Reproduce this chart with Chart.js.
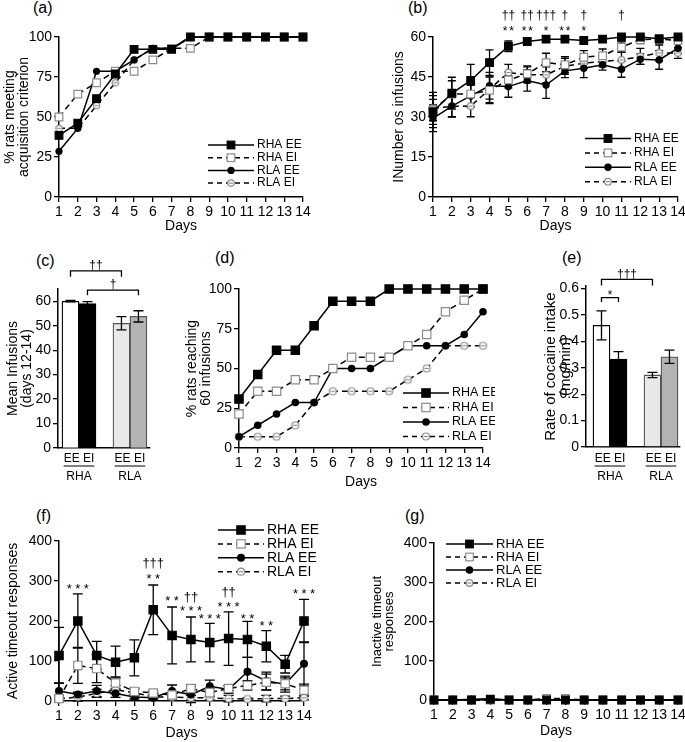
<!DOCTYPE html>
<html>
<head>
<meta charset="utf-8">
<script src="https://cdn.jsdelivr.net/npm/chart.js@4/dist/chart.umd.min.js"></script>
<style>
  body { margin: 0; background: #fff; }
  #fig { position: relative; width: 685px; height: 742px; overflow: hidden; font-family: 'Liberation Sans', Arial, sans-serif; }
  #fig canvas { position: absolute; }
  .lab { position: absolute; font-size: 16px; line-height: 16px; }
</style>
</head>
<body>
<div id="fig">
  <div class="lab" style="left:33px;top:0px">(a)</div>
  <div class="lab" style="left:408px;top:0px">(b)</div>
  <div class="lab" style="left:36px;top:253px">(c)</div>
  <div class="lab" style="left:215px;top:250px">(d)</div>
  <div class="lab" style="left:562px;top:250px">(e)</div>
  <div class="lab" style="left:36px;top:508px">(f)</div>
  <div class="lab" style="left:405px;top:508px">(g)</div>
</div>
<script>
'use strict'
/* 데이터 */
const days = [1, 2, 3, 4, 5, 6, 7, 8, 9, 10, 11, 12, 13, 14];
const groupNames = ['RHA EE', 'RHA EI', 'RLA EE', 'RLA EI'];
const barLabels = ['EE EI', 'EE EI'];
const barGroups = ['RHA', 'RLA'];
const barSlots = [1, 2, 4, 5]; // 막대 자리 (3번은 그룹 사이 빈칸)

// (a) % rats meeting acquisition criterion
const aRhaEE = [38.5, 46.2, 61.5, 76.9, 92.3, 92.3, 92.3, 100, 100, 100, 100, 100, 100, 100];
const aRhaEI = [50, 64.3, 71.4, 78.6, 78.6, 85.7, 92.9, 92.9, 100, 100, 100, 100, 100, 100];
const aRlaEE = [28.6, 42.9, 78.6, 78.6, 85.7, 92.9, 92.9, 100, 100, 100, 100, 100, 100, 100];
const aRlaEI = [42.9, 42.9, 57.1, 71.4, 85.7, 92.9, 92.9, 100, 100, 100, 100, 100, 100, 100];

// (b) number of infusions (mean, sem)
const bRhaEE = [32, 38.9, 43.7, 50.4, 56.5, 58.3, 59.2, 59.2, 58.7, 59.2, 60, 60, 59.3, 60];
const bRhaEEErr = [6, 6, 6, 4.8, 2, 1, 0.8, 0.8, 1, 0.8, 0.5, 0.5, 0.5, 0.5];
const bRhaEI = [32.6, 38.6, 38.6, 40, 43.9, 46.2, 50.4, 49.6, 52.4, 53, 56.2, 59, 59.2, 58.7];
const bRhaEIErr = [4, 5, 5, 5, 3, 3, 3.5, 3, 2.5, 2.5, 2, 1.5, 1.5, 1.5];
const bRlaEE = [29.5, 34.1, 37.9, 41.7, 41.4, 43.7, 42, 47.3, 48.3, 49.6, 47.9, 51.7, 51.4, 55.8];
const bRlaEEErr = [5, 4, 4, 5, 4, 4, 5, 2.5, 3.5, 2, 3, 2, 3.5, 2];
const bRlaEI = [33.2, 34, 34.1, 40.4, 46.7, 45.8, 45.8, 49, 50.2, 50.8, 51.4, 52.7, 54, 54];
const bRlaEIErr = [6, 4, 4, 5, 3, 3, 3, 3, 2, 2, 3, 3, 3, 2];
const bMarkDays = [5, 6, 7, 8, 9, 11];
const bMarkTop = ['††', '††', '†††', '†', '†', '†'];
const bMarkLow = ['**', '**', '*', '**', '*', ''];

// (c) mean infusions days 12-14
const cMeans = [60, 59, 51, 53.8];
const cErr = [0.3, 0.8, 2.7, 2.3];

// (d) % rats reaching 60 infusions
const dRhaEE = [30.8, 46.2, 61.5, 61.5, 76.9, 92.3, 92.3, 92.3, 100, 100, 100, 100, 100, 100];
const dRhaEI = [21.4, 35.7, 35.7, 42.9, 42.9, 50, 57.1, 57.1, 57.1, 64.3, 71.4, 85.7, 92.9, 100];
const dRlaEE = [7.1, 14.3, 21.4, 28.6, 28.6, 50, 50, 50, 57.1, 64.3, 64.3, 64.3, 71.4, 85.7];
const dRlaEI = [7.1, 7.1, 7.1, 14.3, 28.6, 35.7, 35.7, 35.7, 35.7, 42.9, 50, 64.3, 64.3, 64.3];

// (e) rate of cocaine intake
const eMeans = [0.461, 0.333, 0.273, 0.342];
const eErr = [0.055, 0.028, 0.01, 0.025];

// (f) active timeout responses
const fRhaEE = [114, 200, 114, 97, 108, 228, 164, 154, 146, 156, 154, 137, 92, 200];
const fRhaEEErr = [70, 68, 35, 40, 45, 62, 71, 56, 48, 67, 45, 39, 22, 54];
const fRhaEI = [6, 89, 81, 45, 24, 20, 15, 31, 21, 31, 39, 47, 43, 27];
const fRhaEIErr = [8, 45, 35, 15, 8, 5, 6, 10, 10, 6, 12, 20, 15, 15];
const fRlaEE = [25, 16, 25, 19, 10, 8, 25, 16, 37, 29, 73, 50, 42, 93];
const fRlaEEErr = [20, 6, 14, 10, 5, 3, 15, 20, 15, 10, 36, 22, 20, 55];
const fRlaEI = [5, 10, 19, 28, 21, 10, 10, 8, 8, 6, 5, 6, 6, 8];
const fRlaEIErr = [5, 10, 10, 10, 8, 4, 5, 6, 5, 8, 3, 8, 6, 5];
const fMarkDays = [2, 6, 6, 7, 8, 8, 9, 10, 10, 11, 12, 14];
const fMarkVals = [287, 344, 312, 259, 259, 232, 212, 272, 244, 214, 195, 275];
const fMarkText = ['***', '†††', '**', '**', '††', '***', '***', '††', '***', '**', '**', '***'];

// (g) inactive timeout responses
const gRhaEE = [0, 0, 0, 2, 0, 0, 0, 0, 0, 0, 0, 0, 0, 0];
const gRhaEI = [0, 0, 0, 0, 0, 0, 4, 4, 0, 0, 0, 0, 0, 0];
const gRlaEE = [0, 0, 2, 3, 0, 0, 1, 0, 0, 0, 0, 0, 0, 0];
const gRlaEI = [0, 0, 0, 0, 0, 0, 0, 0, 0, 0, 0, 0, 0, 0];

/* 공통 설정 */
const FONT = "'Liberation Sans', Arial, sans-serif";
const GREY = '#8c8c8c';
const kinds = ['sqF', 'sqO', 'ciF', 'ciO'];
Chart.defaults.font.family = FONT;
Chart.defaults.font.size = 14;
Chart.defaults.color = '#000';
Chart.defaults.animation = false;
Chart.defaults.events = [];
Chart.defaults.plugins.legend.display = false;
Chart.defaults.plugins.tooltip.enabled = false;

const fig = document.getElementById('fig');
const extrasFor = new Map(); // 캔버스별 추가 그림 정보

// 마커 그리기 (범례와 점 이미지에 같이 사용)
function drawMarker(ctx, kind, x, y, sz) {
  ctx.save();
  ctx.setLineDash([]);
  ctx.lineWidth = 1.2;
  if (kind === 'sqF' || kind === 'sqO') {
    const h = sz.sq * Math.SQRT1_2;
    ctx.fillStyle = kind === 'sqF' ? '#000' : '#fff';
    ctx.strokeStyle = kind === 'sqF' ? '#000' : GREY;
    ctx.fillRect(x - h, y - h, 2 * h, 2 * h);
    ctx.strokeRect(x - h, y - h, 2 * h, 2 * h);
  } else if (kind === 'ciF') {
    ctx.fillStyle = '#000';
    ctx.beginPath(); ctx.arc(x, y, sz.ci, 0, 2 * Math.PI); ctx.fill();
  } else {
    ctx.fillStyle = '#fff'; ctx.strokeStyle = GREY;
    ctx.beginPath(); ctx.arc(x, y, sz.co, 0, 2 * Math.PI); ctx.fill(); ctx.stroke();
    ctx.beginPath(); ctx.moveTo(x - sz.co * 0.6, y); ctx.lineTo(x + sz.co * 0.6, y); ctx.stroke();
  }
  ctx.restore();
}

function minusCircle(sz) {
  const c = document.createElement('canvas');
  const s = Math.ceil(2 * sz.co + 4);
  c.width = s; c.height = s;
  drawMarker(c.getContext('2d'), 'ciO', s / 2, s / 2, sz);
  return c;
}

// 선 데이터셋 만들기
function lineSet(label, vals, errs, kind, sz) {
  const ds = {
    label: label, err: errs,
    data: days.map((d, i) => ({ x: d, y: vals[i] })),
    borderColor: '#000', borderWidth: 1.5, tension: 0, fill: false, clip: false,
    borderDash: (kind === 'sqO' || kind === 'ciO') ? [6, 4] : [],
    pointBorderWidth: 1.2
  };
  if (kind === 'sqF') Object.assign(ds, { pointStyle: 'rect', pointRadius: sz.sq, pointBackgroundColor: '#000', pointBorderColor: '#000' });
  if (kind === 'sqO') Object.assign(ds, { pointStyle: 'rect', pointRadius: sz.sq, pointBackgroundColor: '#fff', pointBorderColor: GREY });
  if (kind === 'ciF') Object.assign(ds, { pointStyle: 'circle', pointRadius: sz.ci, pointBackgroundColor: '#000', pointBorderColor: '#000', pointBorderWidth: 0 });
  if (kind === 'ciO') Object.assign(ds, { pointStyle: minusCircle(sz), pointRadius: sz.co });
  return ds;
}

function drawErrors(chart, cap) {
  const ctx = chart.ctx, ys = chart.scales.y;
  ctx.save();
  ctx.strokeStyle = '#000'; ctx.lineWidth = 1.3; ctx.setLineDash([]);
  chart.data.datasets.forEach((ds, i) => {
    if (!ds.err) return;
    const meta = chart.getDatasetMeta(i);
    meta.data.forEach((el, j) => {
      const e = ds.err[j];
      if (!e) return;
      const v = ds.data[j].y, x = el.x;
      const y1 = ys.getPixelForValue(v + e), y2 = ys.getPixelForValue(v - e);
      ctx.beginPath();
      ctx.moveTo(x, y1); ctx.lineTo(x, y2);
      ctx.moveTo(x - cap, y1); ctx.lineTo(x + cap, y1);
      ctx.moveTo(x - cap, y2); ctx.lineTo(x + cap, y2);
      ctx.stroke();
    });
  });
  ctx.restore();
}

// 유의성 표시 (*, †)
function drawMark(ctx, text, x, y, fs, sp) {
  ctx.save();
  ctx.font = fs + 'px ' + FONT;
  ctx.fillStyle = '#000';
  ctx.textAlign = 'center';
  ctx.textBaseline = 'alphabetic';
  const base = y + (text.indexOf('*') >= 0 ? 0.55 : 0.3) * fs;
  if (sp) {
    const n = text.length;
    for (let i = 0; i < n; i++) ctx.fillText(text[i], x + (i - (n - 1) / 2) * sp, base);
  } else {
    ctx.fillText(text, x, base);
  }
  ctx.restore();
}

const extras = {
  id: 'extras',
  beforeDatasetsDraw(chart) {
    const o = extrasFor.get(chart.canvas);
    if (o && o.errUnder) drawErrors(chart, o.cap);
  },
  afterDatasetsDraw(chart) {
    const o = extrasFor.get(chart.canvas);
    if (!o) return;
    const ctx = chart.ctx, xs = chart.scales.x, ys = chart.scales.y;
    if (o.errOver) drawErrors(chart, o.cap);
    (o.marks || []).forEach(m => {
      if (m.t) drawMark(ctx, m.t, xs.getPixelForValue(m.x), ys.getPixelForValue(m.y), m.fs, m.sp);
    });
    (o.brackets || []).forEach(b => {
      const x1 = xs.getPixelForValue(b.x1), x2 = xs.getPixelForValue(b.x2);
      const y = ys.getPixelForValue(b.y), ye = ys.getPixelForValue(b.yEnd);
      ctx.save();
      ctx.strokeStyle = '#000'; ctx.lineWidth = 1.3;
      ctx.beginPath();
      ctx.moveTo(x1, ye); ctx.lineTo(x1, y); ctx.lineTo(x2, y); ctx.lineTo(x2, ye);
      ctx.stroke();
      ctx.restore();
      drawMark(ctx, b.label, (x1 + x2) / 2, ys.getPixelForValue(b.ly), b.fs, b.sp);
    });
    if (o.legend) {
      const L = o.legend;
      ctx.save();
      ctx.font = L.fs + 'px ' + FONT;
      ctx.textBaseline = 'middle';
      ctx.textAlign = 'left';
      kinds.forEach((k, i) => {
        const y = L.y + i * L.dy - o.off.y, x0 = L.x - o.off.x;
        ctx.strokeStyle = '#000'; ctx.lineWidth = 1.5;
        ctx.setLineDash(k.endsWith('O') ? [5, 4] : []);
        ctx.beginPath(); ctx.moveTo(x0, y); ctx.lineTo(x0 + L.w, y); ctx.stroke();
        drawMarker(ctx, k, x0 + L.w / 2, y, L.sz);
        ctx.fillStyle = '#000';
        ctx.fillText(groupNames[i], x0 + L.w + 3, y);
      });
      ctx.restore();
    }
    if (o.groups) {
      ctx.save();
      ctx.font = '12px ' + FONT;
      ctx.fillStyle = '#000'; ctx.strokeStyle = '#000'; ctx.lineWidth = 1;
      ctx.textAlign = 'center'; ctx.textBaseline = 'middle';
      o.groups.forEach((g, i) => {
        const x = xs.getPixelForValue(g);
        const y1 = 459 - o.off.y, y2 = 477 - o.off.y;
        ctx.fillText(barLabels[i], x, y1);
        const w = ctx.measureText(barLabels[i]).width;
        ctx.beginPath(); ctx.moveTo(x - w / 2, y1 + 7); ctx.lineTo(x + w / 2, y1 + 7); ctx.stroke();
        ctx.fillText(barGroups[i], x, y2);
      });
      ctx.restore();
    }
  }
};
Chart.register(extras);

// 축 공통
function axis(min, max, step, title, tsize, tline) {
  return {
    min: min, max: max, offset: false,
    ticks: { stepSize: step, padding: 2, autoSkip: false, maxRotation: 0, includeBounds: false, font: { size: 14 } },
    grid: { drawOnChartArea: false, drawTicks: true, tickLength: 5, color: '#000', lineWidth: 1.3 },
    border: { color: '#000', width: 1.5 },
    title: { display: !!title, text: title, padding: 0, font: { size: tsize || 14, lineHeight: tline || 1 } }
  };
}

// 패널 하나 = 캔버스 하나, 그림 영역(box)을 페이지 좌표로 맞춘다
function panel(box, m, config, ex) {
  const cv = document.createElement('canvas');
  const left = box.l - m.l, top = box.t - m.t;
  const w = box.r - box.l + m.l + m.r, h = box.b - box.t + m.t + m.b;
  cv.width = w; cv.height = h;
  cv.style.left = left + 'px'; cv.style.top = top + 'px';
  cv.style.width = w + 'px'; cv.style.height = h + 'px';
  fig.appendChild(cv);
  ex.off = { x: left, y: top };
  extrasFor.set(cv, ex);
  config.options.responsive = false;
  config.options.maintainAspectRatio = false;
  config.options.layout = { padding: { left: 0, top: m.t, right: m.r, bottom: 0 } };
  config.options.scales.y.afterFit = s => { s.width = m.l; };
  config.options.scales.x.afterFit = s => { s.height = m.b; };
  return new Chart(cv, config);
}

function linePanel(box, m, sets, ymax, ystep, ytitle, tsize, tline, ex) {
  const x = axis(1, 14, 1, 'Days');
  x.type = 'linear';
  return panel(box, m, {
    type: 'line',
    data: { datasets: sets },
    options: { scales: { x: x, y: axis(0, ymax, ystep, ytitle, tsize, tline) } }
  }, ex);
}

function barPanel(box, m, means, errs, xmin, xmax, ymax, ystep, ytitle, tsize, ex) {
  const x = axis(xmin, xmax, 1, '');
  x.type = 'linear';
  x.ticks.display = false;
  x.grid.drawTicks = false;
  const y = axis(0, ymax, ystep, ytitle, tsize);
  return panel(box, m, {
    type: 'bar',
    data: {
      datasets: [{
        data: barSlots.map((s, i) => ({ x: s, y: means[i] })),
        err: errs,
        backgroundColor: ['#ffffff', '#000000', '#e8e8e8', '#b3b3b3'],
        borderColor: ['#000000', '#000000', '#555555', '#555555'],
        borderWidth: 1.3,
        barThickness: 17
      }]
    },
    options: { scales: { x: x, y: y } }
  }, ex);
}

/* (a) */
const szA = { sq: 5.4, ci: 3.6, co: 3.2 };
linePanel({ l: 59, t: 37, r: 303, b: 197 }, { l: 56, t: 20, r: 37, b: 36 }, [
  lineSet('RHA EE', aRhaEE, null, 'sqF', szA),
  lineSet('RHA EI', aRhaEI, null, 'sqO', szA),
  lineSet('RLA EE', aRlaEE, null, 'ciF', szA),
  lineSet('RLA EI', aRlaEI, null, 'ciO', szA)
], 100, 25, ['% rats meeting', 'acquisition criterion'], 14, 1, {
  legend: { x: 208, y: 145, dy: 12.7, w: 46, fs: 12, sz: szA }
});

/* (b) */
const szB = { sq: 5.4, ci: 3.7, co: 3.3 };
const bMarks = [];
bMarkDays.forEach((d, i) => {
  bMarks.push({ x: d, y: 68.2, t: bMarkTop[i], fs: 12 });
  bMarks.push({ x: d, y: 63.1, t: bMarkLow[i], fs: 12, sp: 6.5 });
});
linePanel({ l: 433, t: 37, r: 678, b: 197 }, { l: 41, t: 37, r: 12, b: 36 }, [
  lineSet('RHA EE', bRhaEE, bRhaEEErr, 'sqF', szB),
  lineSet('RHA EI', bRhaEI, bRhaEIErr, 'sqO', szB),
  lineSet('RLA EE', bRlaEE, bRlaEEErr, 'ciF', szB),
  lineSet('RLA EI', bRlaEI, bRlaEIErr, 'ciO', szB)
], 60, 15, 'INumber os infusions', 14, 1, {
  errUnder: true, cap: 4, marks: bMarks,
  legend: { x: 585, y: 138.5, dy: 14.4, w: 46, fs: 12, sz: szB }
});

/* (c) */
barPanel({ l: 58, t: 289, r: 150, b: 448 }, { l: 52, t: 40, r: 10, b: 37 },
  cMeans, cErr, 0.265, 5.68, 65, 10, ['Mean Infusions', '(days 12-14)'], 14, {
    errOver: true, cap: 5, groups: [1.5, 4.5],
    brackets: [
      { x1: 1, x2: 4, y: 72.4, yEnd: 70, label: '††', ly: 74.7, fs: 12 },
      { x1: 2, x2: 5, y: 64.5, yEnd: 62.4, label: '†', ly: 66.9, fs: 12 }
    ]
  });

/* (d) */
const szD = { sq: 5.9, ci: 3.8, co: 3.5 };
linePanel({ l: 239, t: 289, r: 483, b: 448 }, { l: 54, t: 20, r: 12, b: 41 }, [
  lineSet('RHA EE', dRhaEE, null, 'sqF', szD),
  lineSet('RHA EI', dRhaEI, null, 'sqO', szD),
  lineSet('RLA EE', dRlaEE, null, 'ciF', szD),
  lineSet('RLA EI', dRlaEI, null, 'ciO', szD)
], 100, 25, ['% rats reaching', '60 infusions'], 14, 1, {
  legend: { x: 403, y: 393, dy: 14.5, w: 46, fs: 12.5, sz: szD }
});

/* (e) */
barPanel({ l: 586, t: 286, r: 680, b: 447 }, { l: 43, t: 31, r: 10, b: 38 },
  eMeans, eErr, 0.088, 5.62, 0.61, 0.1, ['Rate of cocaine intake', '(mg/min)'], 15, {
    errOver: true, cap: 5, groups: [1.5, 4.5],
    brackets: [
      { x1: 1, x2: 2, y: 0.566, yEnd: 0.549, label: '*', ly: 0.585, fs: 12 },
      { x1: 1, x2: 4, y: 0.635, yEnd: 0.612, label: '†††', ly: 0.654, fs: 12 }
    ]
  });

/* (f) */
const szF = { sq: 5.9, ci: 4, co: 3.5 };
linePanel({ l: 59, t: 541, r: 304, b: 701 }, { l: 53, t: 36, r: 36, b: 39 }, [
  lineSet('RHA EE', fRhaEE, fRhaEEErr, 'sqF', szF),
  lineSet('RHA EI', fRhaEI, fRhaEIErr, 'sqO', szF),
  lineSet('RLA EE', fRlaEE, fRlaEEErr, 'ciF', szF),
  lineSet('RLA EI', fRlaEI, fRlaEIErr, 'ciO', szF)
], 400, 100, 'Active timeout responses', 14, 1, {
  errUnder: true, cap: 5,
  marks: fMarkDays.map((d, i) => ({ x: d, y: fMarkVals[i], t: fMarkText[i], fs: 13, sp: fMarkText[i][0] === '*' ? 8.5 : 0 })),
  legend: { x: 218, y: 530, dy: 13.9, w: 46, fs: 14, sz: szF }
});

/* (g) */
const szG = { sq: 5.4, ci: 3.8, co: 3.3 };
linePanel({ l: 434, t: 543, r: 678, b: 700 }, { l: 63, t: 38, r: 12, b: 38 }, [
  lineSet('RHA EE', gRhaEE, null, 'sqF', szG),
  lineSet('RHA EI', gRhaEI, null, 'sqO', szG),
  lineSet('RLA EE', gRlaEE, null, 'ciF', szG),
  lineSet('RLA EI', gRlaEI, null, 'ciO', szG)
], 400, 100, ['Inactive timeout', 'responses'], 13, 0.95, {
  legend: { x: 446, y: 544, dy: 13, w: 47, fs: 13, sz: szG }
});
</script>
</body>
</html>
